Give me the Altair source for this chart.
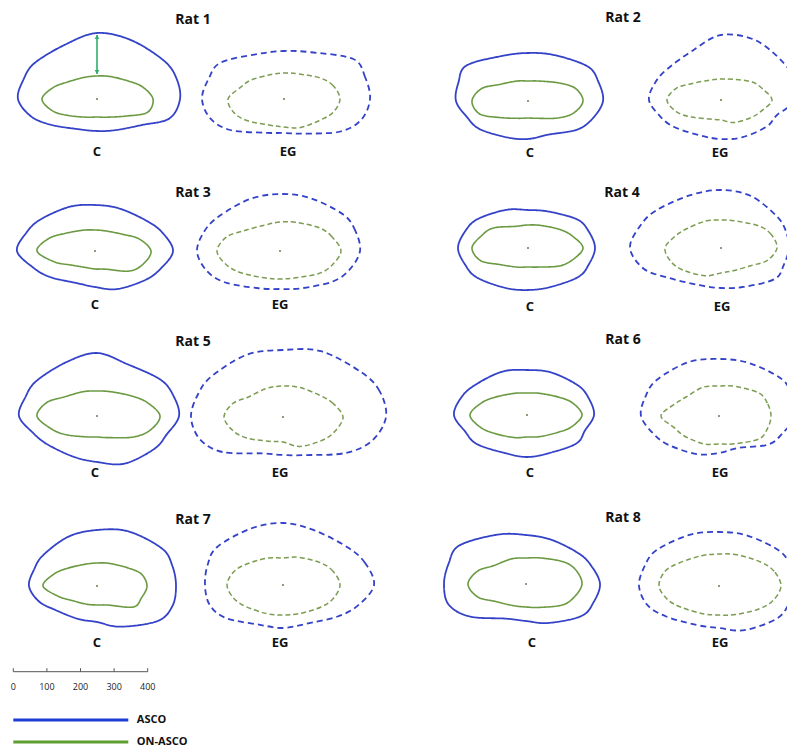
import altair as alt
import pandas as pd
import numpy as np

# ---------------- data (image pixel units) ----------------
ANGLES = [0, 15, 30, 60, 90, 120, 150, 165, 180, 195, 210, 240, 270, 300, 330, 345]

RATS = ["Rat 1", "Rat 2", "Rat 3", "Rat 4", "Rat 5", "Rat 6", "Rat 7", "Rat 8"]

C_CENTER_X = [97, 528, 95, 528, 97, 527, 97, 526]
C_CENTER_Y = [99, 101, 251, 248, 416, 415, 586, 584]
EG_CENTER_X = [284, 721, 280, 721, 283, 719, 283, 719]
EG_CENTER_Y = [99, 100, 251, 248, 417, 416, 585, 586]

TITLE_X = [193, 623, 193, 622, 193, 623, 193, 623]
TITLE_Y = [20, 18, 193, 193, 342, 340, 520, 518]
C_LABEL_X = [97, 530, 95, 530, 95, 530, 97, 532]
EG_LABEL_X = [288, 720, 280, 722, 280, 720, 280, 720]
LABEL_Y = [152, 153, 305, 307, 473, 473, 643, 643]

# radii (px) of each contour at ANGLES, measured from the centre dot
RAT1_C_ASCO = [83, 82, 77, 68, 66, 63, 72, 76, 79, 68, 52, 35, 32, 36, 52, 75]
RAT1_C_ON = [56, 47, 36, 26, 23, 25, 34, 45, 55, 46, 33, 21, 18, 21, 34, 52]
RAT1_EG_ASCO = [86, 84, 80, 54, 48, 52, 73, 78, 82, 76, 62, 39, 34, 40, 65, 80]
RAT1_EG_ON = [56, 51, 42, 29, 26, 28, 38, 45, 56, 52, 43, 30, 28, 33, 42, 51]

RAT2_C_ASCO = [75, 73, 69, 53, 48, 52, 71, 72, 72, 63, 56, 42, 38, 39, 57, 67]
RAT2_C_ON = [55, 49, 36, 23, 20, 23, 33, 48, 56, 50, 33, 20, 17, 20, 34, 47]
RAT2_EG_ASCO = [75, 75, 73, 69, 65, 57, 62, 68, 72, 63, 54, 41, 39, 43, 53, 58]
RAT2_EG_ON = [51, 43, 36, 24, 21, 23, 33, 46, 54, 46, 34, 22, 20, 26, 35, 42]

RAT3_C_ASCO = [78, 70, 60, 49, 46, 51, 63, 71, 78, 64, 52, 37, 36, 44, 58, 68]
RAT3_C_ON = [56, 46, 33, 23, 21, 24, 35, 48, 58, 42, 28, 19, 18, 21, 40, 50]
RAT3_EG_ASCO = [80, 78, 73, 61, 57, 60, 70, 78, 83, 76, 63, 43, 38, 43, 61, 72]
RAT3_EG_ON = [61, 54, 46, 33, 29, 30, 41, 55, 63, 55, 44, 31, 28, 31, 45, 54]

RAT4_C_ASCO = [67, 63, 57, 42, 38, 44, 58, 65, 70, 65, 59, 46, 42, 45, 58, 63]
RAT4_C_ON = [55, 46, 37, 26, 23, 25, 40, 48, 56, 49, 33, 22, 19, 22, 36, 46]
RAT4_EG_ASCO = [68, 67, 64, 60, 58, 61, 75, 84, 91, 80, 60, 43, 40, 45, 62, 65]
RAT4_EG_ON = [56, 52, 44, 31, 28, 31, 39, 47, 56, 52, 44, 32, 25, 26, 35, 48]

RAT5_C_ASCO = [82, 79, 73, 60, 63, 62, 70, 74, 78, 66, 57, 47, 46, 55, 66, 72]
RAT5_C_ON = [63, 52, 40, 28, 25, 28, 38, 52, 60, 48, 37, 24, 21, 25, 42, 55]
RAT5_EG_ASCO = [103, 100, 90, 76, 67, 72, 82, 88, 92, 86, 70, 42, 38, 44, 72, 92]
RAT5_EG_ON = [60, 52, 43, 34, 31, 33, 40, 52, 59, 52, 42, 28, 25, 34, 46, 54]

RAT6_C_ASCO = [67, 64, 59, 49, 45, 50, 60, 68, 73, 64, 58, 44, 42, 44, 57, 60]
RAT6_C_ON = [55, 47, 36, 25, 22, 25, 36, 47, 57, 48, 37, 26, 22, 25, 35, 46]
RAT6_EG_ASCO = [76, 75, 73, 61, 57, 62, 72, 76, 78, 68, 58, 44, 37, 37, 57, 66]
RAT6_EG_ON = [52, 50, 46, 34, 30, 33, 38, 46, 58, 46, 40, 32, 28, 32, 46, 50]

RAT7_C_ASCO = [79, 78, 75, 63, 56, 57, 62, 65, 68, 60, 48, 38, 36, 47, 70, 78]
RAT7_C_ON = [50, 46, 36, 26, 23, 25, 35, 45, 54, 40, 29, 21, 19, 22, 42, 46]
RAT7_EG_ASCO = [91, 85, 75, 63, 62, 65, 76, 78, 78, 76, 66, 46, 43, 45, 63, 78]
RAT7_EG_ON = [57, 52, 44, 32, 27, 31, 42, 51, 56, 51, 43, 33, 30, 33, 44, 52]

RAT8_C_ASCO = [74, 68, 61, 51, 49, 57, 77, 80, 82, 80, 65, 40, 37, 45, 64, 70]
RAT8_C_ON = [56, 52, 44, 30, 26, 29, 37, 50, 58, 50, 35, 25, 23, 27, 42, 50]
RAT8_EG_ASCO = [76, 74, 70, 58, 54, 59, 72, 77, 80, 74, 61, 45, 42, 51, 66, 72]
RAT8_EG_ON = [62, 57, 48, 36, 32, 35, 46, 56, 60, 53, 43, 32, 29, 33, 46, 56]

CONTOURS = {
    "Rat 1": (RAT1_C_ASCO, RAT1_C_ON, RAT1_EG_ASCO, RAT1_EG_ON),
    "Rat 2": (RAT2_C_ASCO, RAT2_C_ON, RAT2_EG_ASCO, RAT2_EG_ON),
    "Rat 3": (RAT3_C_ASCO, RAT3_C_ON, RAT3_EG_ASCO, RAT3_EG_ON),
    "Rat 4": (RAT4_C_ASCO, RAT4_C_ON, RAT4_EG_ASCO, RAT4_EG_ON),
    "Rat 5": (RAT5_C_ASCO, RAT5_C_ON, RAT5_EG_ASCO, RAT5_EG_ON),
    "Rat 6": (RAT6_C_ASCO, RAT6_C_ON, RAT6_EG_ASCO, RAT6_EG_ON),
    "Rat 7": (RAT7_C_ASCO, RAT7_C_ON, RAT7_EG_ASCO, RAT7_EG_ON),
    "Rat 8": (RAT8_C_ASCO, RAT8_C_ON, RAT8_EG_ASCO, RAT8_EG_ON),
}

# measurement arrow in Rat 1 (C)
ARROW_X = [97]
ARROW_Y = [35, 74]

# scale bar
SCALE_TICKS = [0, 100, 200, 300, 400]
SCALE_X0, SCALE_X1, SCALE_Y = 13.3, 147.7, 671.7

# legend
LEGEND_LABELS = ["ASCO", "ON-ASCO"]
LEGEND_COLORS = ["#1f3cd6", "#5e9e30"]
LEGEND_Y = [720, 742]
LEGEND_X0, LEGEND_X1 = 13.3, 128.3

BLUE = "#3442c8"
GREEN = "#6b9a42"
FONT = "Open Sans"

# ---------------- build tables ----------------
rows = []
for i, rat in enumerate(RATS):
    c_asco, c_on, eg_asco, eg_on = CONTOURS[rat]
    for panel, layer, radii, cx, cy in [
        ("C", "ASCO", c_asco, C_CENTER_X[i], C_CENTER_Y[i]),
        ("C", "ON-ASCO", c_on, C_CENTER_X[i], C_CENTER_Y[i]),
        ("EG", "ASCO", eg_asco, EG_CENTER_X[i], EG_CENTER_Y[i]),
        ("EG", "ON-ASCO", eg_on, EG_CENTER_X[i], EG_CENTER_Y[i]),
    ]:
        for k, (a, r) in enumerate(zip(ANGLES, radii)):
            t = np.deg2rad(a)
            rows.append({"rat": rat, "panel": panel, "layer": layer,
                         "key": f"{rat}-{panel}-{layer}", "idx": k,
                         "x": cx + r * np.cos(t), "y": cy - r * np.sin(t)})
contours = pd.DataFrame(rows)

centers = pd.DataFrame({"x": C_CENTER_X + EG_CENTER_X, "y": C_CENTER_Y + EG_CENTER_Y})
titles = pd.DataFrame({"label": RATS, "x": TITLE_X, "y": TITLE_Y})
labels = pd.DataFrame({"label": ["C"] * 8 + ["EG"] * 8,
                       "x": C_LABEL_X + EG_LABEL_X, "y": LABEL_Y + LABEL_Y})

arrow = pd.DataFrame({"x": ARROW_X, "y": [ARROW_Y[0]], "y2": [ARROW_Y[1]]})
arrow_heads = pd.DataFrame({"x": ARROW_X * 2, "y": [ARROW_Y[0] + 2, ARROW_Y[1] - 2],
                            "shape": ["triangle-up", "triangle-down"]})

tick_x = [SCALE_X0 + v / 400 * (SCALE_X1 - SCALE_X0) for v in SCALE_TICKS]
scale_ticks = pd.DataFrame({"x": tick_x, "y": [SCALE_Y - 3.5] * 5, "y2": [SCALE_Y] * 5,
                            "label": [str(v) for v in SCALE_TICKS], "ly": [SCALE_Y + 15] * 5})
scale_line = pd.DataFrame({"x": [SCALE_X0], "x2": [SCALE_X1], "y": [SCALE_Y]})

legend = pd.DataFrame({"label": LEGEND_LABELS, "color": LEGEND_COLORS,
                       "x": [LEGEND_X0] * 2, "x2": [LEGEND_X1] * 2, "y": LEGEND_Y,
                       "tx": [LEGEND_X1 + 8.5] * 2})

XS = alt.Scale(domain=[8, 787], nice=False, zero=False)
YS = alt.Scale(domain=[8, 744], nice=False, zero=False, reverse=True)
X = alt.X("x:Q", scale=XS, axis=None)
Y = alt.Y("y:Q", scale=YS, axis=None)


def contour_layer(panel, layer, color, width, dash):
    d = contours[(contours.panel == panel) & (contours.layer == layer)]
    return alt.Chart(d).mark_line(
        interpolate="cardinal-closed", color=color, strokeWidth=width,
        strokeDash=dash, clip=True
    ).encode(x=X, y=Y, detail="key:N", order="idx:Q")


outer_c = contour_layer("C", "ASCO", BLUE, 1.8, [1, 0])
inner_c = contour_layer("C", "ON-ASCO", GREEN, 1.6, [1, 0])
outer_eg = contour_layer("EG", "ASCO", BLUE, 1.8, [6, 4])
inner_eg = contour_layer("EG", "ON-ASCO", "#7c9c52", 1.5, [5, 3])

dots = alt.Chart(centers).mark_circle(size=5, color="#808060", opacity=1).encode(x=X, y=Y)

title_text = alt.Chart(titles).mark_text(
    font=FONT, fontSize=14, fontWeight="bold", color="#111111", baseline="middle"
).encode(x=X, y=Y, text="label:N")

label_text = alt.Chart(labels).mark_text(
    font=FONT, fontSize=13, fontWeight="bold", color="#111111", baseline="middle"
).encode(x=X, y=Y, text="label:N")

arrow_rule = alt.Chart(arrow).mark_rule(color="#2fae6c", strokeWidth=1.6).encode(
    x=X, y=Y, y2="y2:Q")
arrow_tips = alt.Chart(arrow_heads).mark_point(
    filled=True, size=22, color="#2fae6c", opacity=1
).encode(x=X, y=Y, shape=alt.Shape("shape:N", scale=None))

sb_line = alt.Chart(scale_line).mark_rule(color="#555555", strokeWidth=1).encode(
    x=X, x2="x2:Q", y=Y)
sb_ticks = alt.Chart(scale_ticks).mark_rule(color="#555555", strokeWidth=1).encode(
    x=X, y=Y, y2="y2:Q")
sb_labels = alt.Chart(scale_ticks).mark_text(
    font=FONT, fontSize=9, color="#222222", baseline="middle"
).encode(x=X, y=alt.Y("ly:Q", scale=YS, axis=None), text="label:N")

leg_lines = alt.Chart(legend).mark_rule(strokeWidth=3.2).encode(
    x=X, x2="x2:Q", y=Y, color=alt.Color("color:N", scale=None))
leg_text = alt.Chart(legend).mark_text(
    font=FONT, fontSize=11, fontWeight="bold", color="#111111", align="left", baseline="middle"
).encode(x=alt.X("tx:Q", scale=XS, axis=None), y=Y, text="label:N")

chart = alt.layer(
    outer_c, inner_c, outer_eg, inner_eg, dots, arrow_rule, arrow_tips,
    title_text, label_text, sb_line, sb_ticks, sb_labels, leg_lines, leg_text
).properties(width=779, height=736, padding=0, background="white").configure_view(strokeWidth=0)

chart.save("out.html", embed_options={"renderer": "svg", "actions": False})
